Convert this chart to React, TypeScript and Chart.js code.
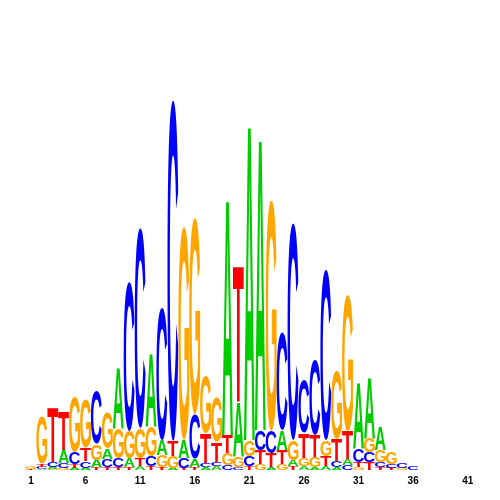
import React, { useEffect, useRef } from "react";
import { Chart, registerables } from "chart.js";

Chart.register(...registerables);

// Positions 1..41
const positions: string[] = Array.from({ length: 41 }, (_, i) => String(i + 1));
const tickLabels: string[] = ["1", "6", "11", "16", "21", "26", "31", "36", "41"];

// Letter heights (bits) per position
const A: number[] = [0, .005, .011, .068, .011, .011, .037, .053, .321, .047, .021, .384, .079, .011, .095, .042, .016, .021, 1.247, .289, 1.668, 1.542, .016, .105, .032, .021, .016, .021, .016, .032, .347, .321, .121, 0, 0, 0, 0, 0, 0, 0, 0];
const C: number[] = [0, .011, .026, .026, .063, .037, .274, .042, .047, .784, 1.053, .053, .695, 1.795, .053, .237, .021, .021, .026, .016, .053, .105, .116, .516, 1.142, .279, .395, .895, .032, .026, .068, .053, .026, .021, .026, .021, 0, 0, 0, 0, 0];
const G: number[] = [.011, .247, .005, .011, .289, .253, .084, .184, .158, .142, .158, .158, .063, .063, 1.121, 1.032, .295, .232, .063, .053, .084, .032, 1.216, .032, .105, .042, .053, .084, .363, .716, .016, .074, .063, .063, .011, 0, 0, 0, 0, 0, 0];
const T: number[] = [.005, .016, .289, .205, .021, .068, .016, .016, .016, .016, .042, .021, .016, .079, .011, .016, .158, .105, .095, .721, .021, .074, .074, .074, .021, .132, .116, .053, .116, .147, .026, .042, .016, .011, 0, 0, 0, 0, 0, 0, 0];

const letterColors: Record<string, string> = {
  A: "#00CC00",
  C: "#0000FF",
  G: "#FFA500",
  T: "#FF0000",
};

const LETTER_FONT = 'bold 100px "Liberation Sans", Arial, sans-serif';

export default function App() {
  const ref = useRef<HTMLCanvasElement | null>(null);

  useEffect(() => {
    if (!ref.current) return;
    const series: Record<string, number[]> = { A, C, G, T };
    const letters = Object.keys(series);
    // Sort letters at each position ascending (smallest at bottom)
    const ranked = positions.map((_, i) =>
      letters
        .map((l) => ({ l, v: series[l][i] }))
        .sort((a, b) => a.v - b.v)
    );
    const datasets = [0, 1, 2, 3].map((r) => ({
      label: "rank" + r,
      data: ranked.map((p) => p[r].v),
      letters: ranked.map((p) => p[r].l),
      backgroundColor: "rgba(0,0,0,0)",
      borderWidth: 0,
      stack: "s",
      categoryPercentage: 1,
      barPercentage: 1,
    }));

    const logoPlugin = {
      id: "logo",
      afterDatasetsDraw(chart: any) {
        const ctx = chart.ctx as CanvasRenderingContext2D;
        ctx.save();
        ctx.font = LETTER_FONT;
        ctx.textBaseline = "alphabetic";
        ctx.textAlign = "left";
        chart.data.datasets.forEach((ds: any, di: number) => {
          const meta = chart.getDatasetMeta(di);
          meta.data.forEach((el: any, i: number) => {
            const { x, y, base, width } = el.getProps(["x", "y", "base", "width"], true);
            const h = base - y;
            if (!(h > 0.4)) return;
            const letter = ds.letters[i];
            const m = ctx.measureText(letter);
            const gw = m.actualBoundingBoxLeft + m.actualBoundingBoxRight;
            const gh = m.actualBoundingBoxAscent + m.actualBoundingBoxDescent;
            ctx.save();
            ctx.fillStyle = letterColors[letter];
            ctx.translate(x - width / 2, y);
            ctx.scale(width / gw, h / gh);
            ctx.fillText(letter, m.actualBoundingBoxLeft, m.actualBoundingBoxAscent);
            ctx.restore();
          });
        });
        ctx.restore();
      },
    };

    const chart = new Chart(ref.current, {
      type: "bar",
      data: { labels: positions, datasets: datasets as any },
      options: {
        animation: false,
        responsive: false,
        events: [],
        layout: { padding: { left: 25.5, right: 26.8, top: 90, bottom: 8 } },
        plugins: { legend: { display: false }, tooltip: { enabled: false } },
        scales: {
          x: {
            stacked: true,
            grid: { display: false, drawTicks: false },
            border: { display: false },
            ticks: {
              autoSkip: false,
              maxRotation: 0,
              padding: 5,
              color: "#000",
              font: { family: '"Liberation Sans", Arial, sans-serif', size: 10, weight: "bold" },
              callback: (_v: any, idx: number) =>
                tickLabels.includes(positions[idx]) ? positions[idx] : "",
            },
          },
          y: { stacked: true, display: false, min: 0, max: 2 },
        },
      },
      plugins: [logoPlugin],
    });
    return () => chart.destroy();
  }, []);

  return (
    <div style={{ position: "fixed", left: 0, top: 0, width: 500, height: 500, background: "#fff" }}>
      <canvas ref={ref} width={500} height={500} />
    </div>
  );
}
